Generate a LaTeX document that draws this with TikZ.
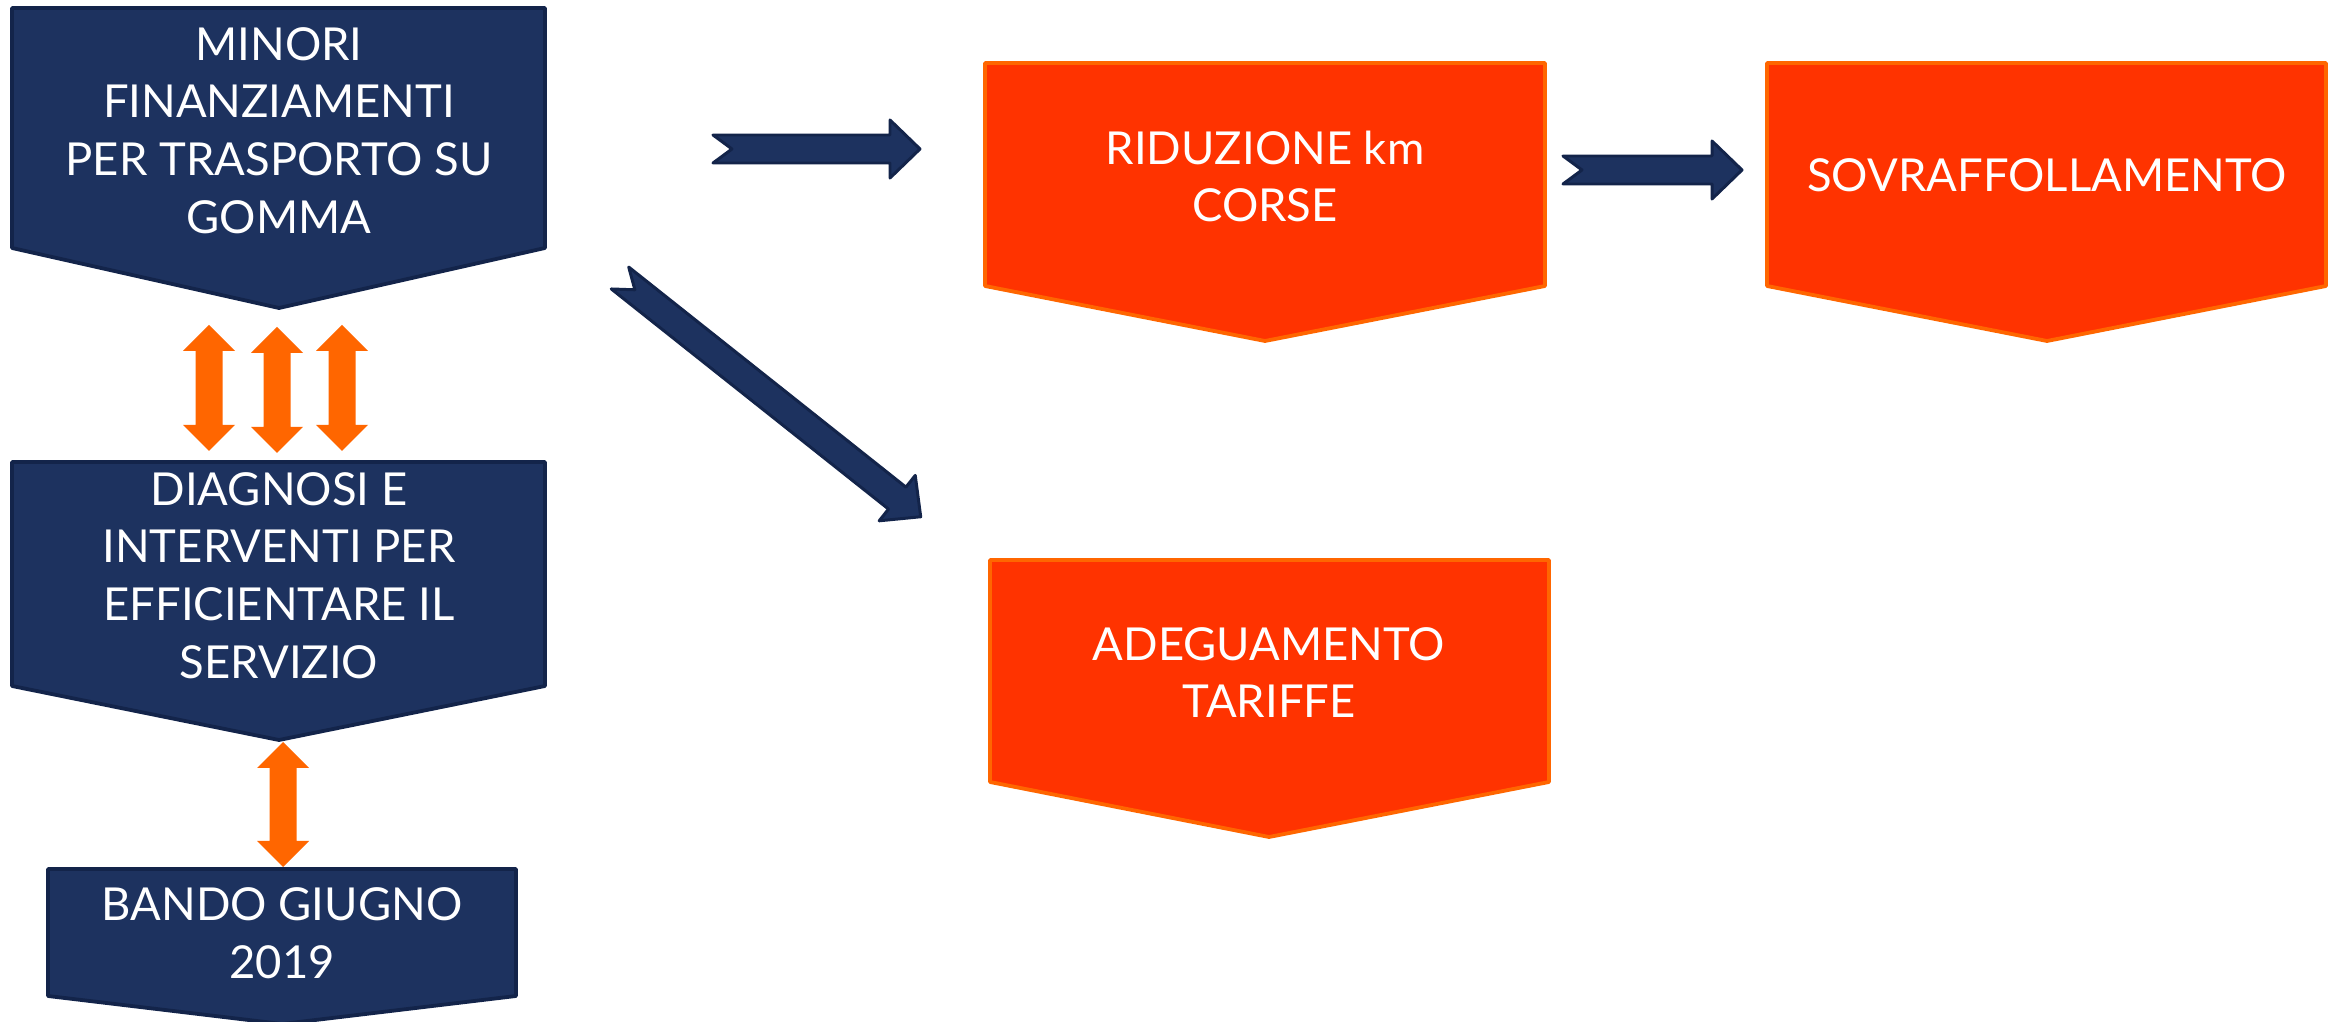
\documentclass[tikz,border=0pt]{standalone}
\usepackage{fontspec}
\setmainfont{Lato}
\definecolor{navyfill}{HTML}{1D325F}
\definecolor{navyline}{HTML}{13244A}
\definecolor{redfill}{HTML}{FF3300}
\definecolor{orangeline}{HTML}{FF6600}
% notched block arrow: tail point, angle, length
\newcommand{\notcharrow}[3]{%
	\begin{scope}[shift={#1},rotate=#2]
		\filldraw[bluearrow] (0,-14) -- ({#3-30},-14) -- ({#3-30},-29) -- (#3,0) -- ({#3-30},29) -- ({#3-30},14) -- (0,14) -- (19,0) -- cycle;
	\end{scope}}
% two way block arrow: top tip, length
\newcommand{\twowayarrow}[2]{%
	\begin{scope}[shift={#1}]
		\fill[orangeline] (0,0) -- (26,26) -- (13.5,26) -- (13.5,{#2-26}) -- (26,{#2-26}) -- (0,#2) -- (-26,{#2-26}) -- (-13.5,{#2-26}) -- (-13.5,26) -- (-26,26) -- cycle;
	\end{scope}}
\begin{document}
\begin{tikzpicture}[x=0.013cm, y=-0.013cm, line join = round,
		navybox/.style = {fill=navyfill, draw=navyline, line width=1.4pt},
		redbox/.style = {fill=redfill, draw=orangeline, line width=1.4pt},
		bluearrow/.style = {fill=navyfill, draw=navyline, line width=1.1pt},
		txt/.style = {text=white, align=center, inner sep=0pt, font=\fontsize{16.8}{21.3}\selectfont}]
	\path[use as bounding box, fill=white] (0,0) rectangle (2331,1022);
	% left column
	\draw[navybox] (12,8) -- (545,8) -- (545,248) -- (279,308) -- (12,248) -- cycle;
	\draw[navybox] (12,462) -- (545,462) -- (545,686) -- (279,740) -- (12,686) -- cycle;
	\draw[navybox] (48,869) -- (516,869) -- (516,996) -- (282,1024) -- (48,996) -- cycle;
	\node[txt] (minori) at (279,130.5) {MINORI\\FINANZIAMENTI\\PER TRASPORTO SU\\GOMMA};
	\node[txt] (diagnosi) at (279,575.5) {DIAGNOSI E\\INTERVENTI PER\\EFFICIENTARE IL\\SERVIZIO};
	\node[txt] (bando) at (282,933) {BANDO GIUGNO\\2019};
	% right boxes
	\draw[redbox] (985,63) -- (1545,63) -- (1545,286) -- (1265,341) -- (985,286) -- cycle;
	\draw[redbox] (1767,63) -- (2326,63) -- (2326,286) -- (2047,341) -- (1767,286) -- cycle;
	\draw[redbox] (990,560) -- (1549,560) -- (1549,782) -- (1269,837) -- (990,782) -- cycle;
	\node[txt] (riduzione) at (1265,176.5) {RIDUZIONE km\\CORSE};
	\node[txt] (sovraff) at (2047,175.5) {SOVRAFFOLLAMENTO};
	\node[txt] (adeguamento) at (1269,672.5) {ADEGUAMENTO\\TARIFFE};
	% arrows
	\coordinate (r1) at (713,149);
	\coordinate (r2) at (1563,170);
	\coordinate (d1) at (620,278);
	\notcharrow{(r1)}{0}{207}
	\notcharrow{(r2)}{0}{179}
	\notcharrow{(d1)}{-38.45}{384}
	\foreach \x/\y in {209/325, 277/327, 342/325}
		\twowayarrow{(\x,\y)}{126}
	\coordinate (b1) at (283,742);
	\twowayarrow{(b1)}{125}
\end{tikzpicture}
\end{document}
